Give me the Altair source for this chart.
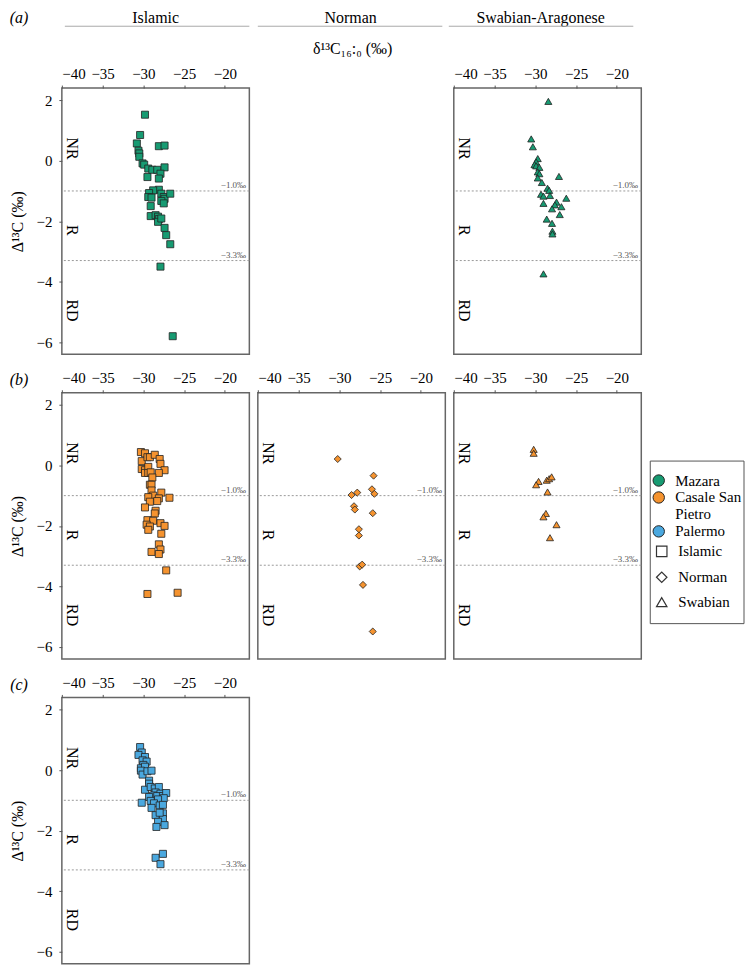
import altair as alt
import pandas as pd

FONT = "Liberation Serif"

# ---------------- data ----------------
# (a) Mazara - Islamic (squares)
maz_isl_x = [-29.8, -30.4, -30.8, -28.1, -27.4, -30.6, -30.5, -30.5, -30.1, -29.9, -29.4, -28.9, -28.3,
             -27.4, -27.9, -28.1, -29.5, -28.1, -28.8, -29.3, -29.4, -29.0, -27.8, -27.5, -27.4, -27.8,
             -27.5, -26.7, -29.1, -29.1, -28.5, -28.2, -28.1, -28.2, -27.8, -27.4, -27.2, -26.7, -27.9, -26.4]
maz_isl_y = [1.52, 0.85, 0.57, 0.48, 0.50, 0.33, 0.24, 0.13, -0.09, -0.13, -0.26, -0.30, -0.30,
             -0.22, -0.43, -0.59, -0.54, -0.96, -0.98, -1.07, -1.20, -1.22, -1.09, -1.20, -1.26, -1.33,
             -1.41, -1.09, -1.50, -1.83, -1.80, -1.85, -1.93, -2.02, -1.91, -2.22, -2.46, -2.76, -3.50, -5.80]
# (a) Mazara - Swabian (triangles)
maz_swa_x = [-28.4, -30.5, -30.3, -29.7, -29.9, -30.1, -29.9, -29.5, -29.7, -29.5, -29.7, -29.2, -27.1,
             -28.5, -28.3, -29.3, -29.0, -28.2, -26.2, -29.0, -27.4, -27.6, -26.8, -27.95, -27.0, -28.6,
             -27.95, -27.9, -27.9, -29.0]
maz_swa_y = [1.96, 0.72, 0.46, 0.07, -0.04, -0.13, -0.17, -0.22, -0.37, -0.43, -0.57, -0.72, -0.52,
             -0.91, -0.98, -1.11, -1.17, -1.15, -1.24, -1.41, -1.37, -1.46, -1.52, -1.59, -1.78, -1.93,
             -2.07, -2.33, -2.42, -3.74]
# (b) Casale San Pietro - Islamic (squares)
cas_isl_x = [-30.3, -29.8, -30.2, -29.5, -29.2, -28.6, -28.0, -27.9, -27.4, -28.1, -30.2, -29.8, -29.8,
             -29.4, -29.4, -29.1, -28.9, -29.2, -29.0, -29.0, -27.8, -28.8, -29.4, -28.1, -28.3, -29.2,
             -26.8, -29.8, -28.5, -28.6, -29.5, -28.8, -27.9, -29.6, -29.2, -29.4, -27.4, -27.8, -28.1,
             -27.9, -29.0, -28.1, -27.2, -29.5, -25.8]
cas_isl_y = [0.44, 0.40, 0.14, 0.27, 0.27, 0.35, 0.21, 0.05, -0.16, -0.25, -0.12, -0.16, -0.25,
             -0.05, -0.25, -0.23, -0.40, -0.64, -0.64, -0.83, -0.90, -1.00, -1.05, -1.09, -1.18, -1.20,
             -1.07, -1.39, -1.50, -1.59, -1.81, -1.83, -1.91, -1.96, -2.02, -2.13, -2.00, -2.26, -2.61,
             -2.78, -2.86, -2.93, -3.47, -4.25, -4.21]
# (b) Casale San Pietro - Norman (diamonds)
cas_nor_x = [-30.2, -25.8, -26.0, -25.7, -27.8, -28.5, -28.2, -28.1, -25.9, -27.6, -27.6, -27.5, -27.2,
             -27.1, -25.9]
cas_nor_y = [0.21, -0.34, -0.79, -0.94, -0.90, -0.98, -1.35, -1.46, -1.58, -2.11, -2.32, -3.34, -3.28,
             -3.95, -5.49]
# (b) Casale San Pietro - Swabian (triangles)
cas_swa_x = [-30.2, -30.2, -29.6, -29.9, -28.6, -28.3, -28.0, -28.5, -28.7, -29.0, -27.4, -28.2]
cas_swa_y = [0.53, 0.40, -0.53, -0.64, -0.49, -0.44, -0.38, -0.88, -1.59, -1.70, -1.96, -2.39]
# (c) Palermo - Islamic (squares)
pal_isl_x = [-30.4, -30.2, -30.6, -29.8, -30.1, -29.6, -30.0, -30.3, -29.8, -30.3, -30.1, -29.5, -29.0,
             -29.3, -29.3, -29.8, -29.1, -28.6, -28.1, -28.5, -27.9, -28.8, -29.3, -28.3, -27.6, -27.2,
             -27.5, -28.2, -30.2, -29.1, -28.7, -28.0, -29.0, -27.6, -27.6, -28.5, -27.6, -28.2, -28.4,
             -27.4, -28.5, -27.6, -27.9, -28.0]
pal_isl_y = [0.76, 0.58, 0.50, 0.43, 0.32, 0.28, 0.17, 0.06, 0.11, -0.02, -0.15, -0.04, -0.02,
             -0.35, -0.45, -0.65, -0.56, -0.61, -0.56, -0.74, -0.78, -0.84, -0.89, -0.86, -0.86, -0.76,
             -0.93, -0.97, -1.08, -1.02, -1.10, -1.17, -1.25, -1.15, -1.43, -1.49, -1.62, -1.71, -1.88,
             -1.82, -2.90, -2.77, -3.11, -1.41]

sites = ["Mazara", "Casale San Pietro", "Palermo"]
site_colors = ["#179b72", "#f5932f", "#4aa8df"]
periods = ["Islamic", "Norman", "Swabian"]
period_shapes = ["square", "diamond", "triangle-up"]
headers = ["Islamic", "Norman", "Swabian-Aragonese"]

x_ticks = [-40, -35, -30, -25, -20]
y_ticks = [2, 0, -2, -4, -6]
thresholds = [-1.0, -3.3]
threshold_labels = ["\u22121.0\u2030", "\u22123.3\u2030"]
zone_names = ["NR", "R", "RD"]
zone_y = [0.4, -2.3, -4.95]
zone_x = -38.8
x_title = "\u03b4\u00b9\u00b3C\u2081\u2086:\u2080 (\u2030)"
y_title = "\u0394\u00b9\u00b3C (\u2030)"

series = [
    ("Mazara", "Islamic", maz_isl_x, maz_isl_y),
    ("Mazara", "Swabian", maz_swa_x, maz_swa_y),
    ("Casale San Pietro", "Islamic", cas_isl_x, cas_isl_y),
    ("Casale San Pietro", "Norman", cas_nor_x, cas_nor_y),
    ("Casale San Pietro", "Swabian", cas_swa_x, cas_swa_y),
    ("Palermo", "Islamic", pal_isl_x, pal_isl_y),
]
rows = []
for site, period, xs, ys in series:
    for xv, yv in zip(xs, ys):
        rows.append({"site": site, "period": period, "d13C": xv, "D13C": yv})
df = pd.DataFrame(rows)

thr_df = pd.DataFrame({"thr": thresholds, "lab": threshold_labels, "xr": [-17.4, -17.4]})
zone_df = pd.DataFrame({"zone": zone_names, "zy": zone_y, "zx": [zone_x] * 3})

W, H = 188, 267
xscale = alt.Scale(domain=[-40, -17], nice=False, zero=False)
yscale = alt.Scale(domain=[-6.4, 2.4], nice=False, zero=False)

color_legend = alt.Legend(
    orient="none", legendX=591, legendY=386, title=None, symbolType="circle", symbolSize=130,
    symbolStrokeColor="#222", symbolStrokeWidth=1, symbolOpacity=1, labelFont=FONT, labelFontSize=15,
    labelColor="black", labelOffset=9, rowPadding=0,
    labelExpr="datum.label == 'Casale San Pietro' ? ['Casale San', 'Pietro'] : datum.label",
)
shape_legend = alt.Legend(
    orient="none", legendX=594, legendY=457, title=None, symbolSize=110, symbolFillColor="white",
    symbolStrokeColor="#333", symbolStrokeWidth=1.2, labelFont=FONT, labelFontSize=15,
    labelColor="black", labelOffset=9, rowPadding=9,
)


def xenc(field):
    return alt.X(field, type="quantitative", scale=xscale,
                 axis=alt.Axis(orient="top", values=x_ticks, title=None, domain=False, grid=False,
                               tickSize=3, tickColor="#555", labelFont=FONT, labelFontSize=15,
                               labelColor="black", labelPadding=4))


def yenc(field, first):
    if first:
        ax = alt.Axis(values=y_ticks, title=y_title, domain=False, grid=False, tickSize=3,
                      tickColor="#555", labelFont=FONT, labelFontSize=15, labelColor="black",
                      labelPadding=7, titleFont=FONT, titleFontSize=16, titleFontWeight="normal",
                      titleColor="black", titlePadding=10)
    else:
        ax = None
    return alt.Y(field, type="quantitative", scale=yscale, axis=ax)


def panel(site, period, first, extras=()):
    sub = df[(df.site == site) & (df.period == period)]
    pts = alt.Chart(sub).mark_point(filled=True, size=50, opacity=1, stroke="#222",
                                    strokeWidth=0.8).encode(
        x=xenc("d13C"), y=yenc("D13C", first),
        color=alt.Color("site:N", scale=alt.Scale(domain=sites, range=site_colors), legend=color_legend),
        shape=alt.Shape("period:N", scale=alt.Scale(domain=periods, range=period_shapes), legend=shape_legend),
    )
    rules = alt.Chart(thr_df).mark_rule(color="#9a9a9a", strokeDash=[2, 2], strokeWidth=1).encode(
        y=yenc("thr", first))
    tl = alt.Chart(thr_df).mark_text(align="right", baseline="bottom", dy=-1, font=FONT, fontSize=9,
                                     color="#555").encode(x=xenc("xr"), y=yenc("thr", first), text="lab:N")
    zl = alt.Chart(zone_df).mark_text(angle=90, font=FONT, fontSize=16, color="black").encode(
        x=xenc("zx"), y=yenc("zy", first), text="zone:N")
    return alt.layer(rules, tl, zl, pts, *extras).properties(width=W, height=H)


def header_layers(text, cx, lx1, lx2):
    hdf = pd.DataFrame({"h": [text]})
    t = alt.Chart(hdf).mark_text(font=FONT, fontSize=16, color="black").encode(
        x=alt.value(cx), y=alt.value(-70), text="h:N")
    ln = alt.Chart(hdf).mark_rule(color="#aaa", strokeWidth=1).encode(
        x=alt.value(lx1), x2=alt.value(lx2), y=alt.value(-62))
    return [t, ln]


def label_layer(text, y):
    ldf = pd.DataFrame({"p": [text]})
    return alt.Chart(ldf).mark_text(font=FONT, fontSize=16, fontStyle="italic", color="black").encode(
        x=alt.value(-43), y=alt.value(y), text="p:N")


# row a
a_isl = panel("Mazara", "Islamic", True,
              extras=header_layers(headers[0], 94, 3, 188) + [label_layer("(a)", -70)])
tdf = pd.DataFrame({"t": [x_title]})
a_mid = alt.layer(
    *header_layers(headers[1], 93, 0, 185),
    alt.Chart(tdf).mark_text(font=FONT, fontSize=16, color="black").encode(
        x=alt.value(95), y=alt.value(-39), text="t:N"),
).properties(width=W, height=H, view=alt.ViewBackground(stroke="transparent"))
a_swa = panel("Mazara", "Swabian", False, extras=header_layers(headers[2], 87, -5, 180))

# row b
bdf = pd.DataFrame({"b": [""]})
legend_box = alt.Chart(bdf).mark_rect(fill="white", stroke="#555", strokeWidth=1).encode(
    x=alt.value(197), x2=alt.value(291), y=alt.value(68.5), y2=alt.value(231.5))
b_isl = panel("Casale San Pietro", "Islamic", True, extras=[label_layer("(b)", -13)])
b_nor = panel("Casale San Pietro", "Norman", False)
b_swa = panel("Casale San Pietro", "Swabian", False, extras=[legend_box])

# row c
c_isl = panel("Palermo", "Islamic", True, extras=[label_layer("(c)", -12)])

chart = alt.concat(
    a_isl, a_mid, a_swa, b_isl, b_nor, b_swa, c_isl,
    columns=3, spacing=alt.RowColnumber(row=38.5, column=8.5), bounds="flush",
).properties(padding=0).configure_view(stroke="#666", strokeWidth=1.5).configure_legend(padding=0)

chart.save("out.html", embed_options={"renderer": "svg", "actions": False})
